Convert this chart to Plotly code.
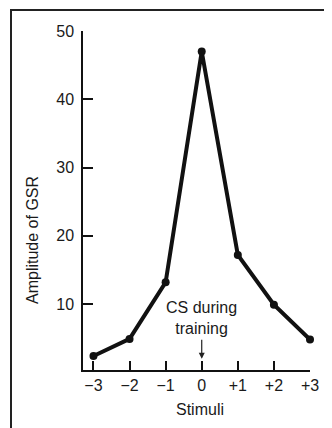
import plotly.graph_objects as go

stimuli = [-3, -2, -1, 0, 1, 2, 3]
tick_labels = ["−3", "−2", "−1", "0", "+1", "+2", "+3"]
amplitude = [2.4, 4.9, 13.2, 47.0, 17.2, 9.9, 4.8]
y_ticks = [10, 20, 30, 40, 50]

OFF = 8  # browser body margin
W, H = 332 - OFF, 428 - OFF
# plot area in reference pixels: x 83..310, y 31..370
L, R, T, B = 83 - OFF, 332 - 310, 31 - OFF, 428 - 370
pw, ph = W - L - R, H - T - B

def px_x(x):
    return (x - OFF - L) / pw

def px_y(y):
    return (H - B - (y - OFF)) / ph

fig = go.Figure()
fig.add_trace(go.Scatter(
    x=stimuli, y=amplitude, mode="lines+markers",
    line=dict(color="#111111", width=4),
    marker=dict(color="#111111", size=8),
    cliponaxis=False, showlegend=False,
))

font = dict(family="Liberation Sans, Arial, sans-serif", size=16, color="#1a1a1a")

fig.update_layout(
    width=W, height=H,
    margin=dict(l=L, r=R, t=T, b=B, pad=0),
    paper_bgcolor="white", plot_bgcolor="white",
    font=font,
    xaxis=dict(
        range=[-3.29, 3.0], tickvals=stimuli, ticktext=tick_labels,
        showline=True, linecolor="#111111", linewidth=1.5,
        ticks="inside", ticklen=9, tickwidth=1.5, tickcolor="#111111",
        showgrid=False, zeroline=False, tickfont=font,
    ),
    yaxis=dict(
        range=[0.35, 50], tickvals=y_ticks,
        showline=True, linecolor="#111111", linewidth=1.5,
        ticks="inside", ticklen=10, tickwidth=1.5, tickcolor="#111111",
        showgrid=False, zeroline=False, tickfont=font, ticklabelstandoff=4,
    ),
)

# outer frame (extends past right and bottom edges)
fig.add_shape(type="rect", xref="paper", yref="paper",
              x0=px_x(11), x1=px_x(360),
              y0=px_y(460), y1=px_y(10),
              line=dict(color="#222222", width=2), layer="below")

fig.add_annotation(text="Amplitude of GSR", xref="paper", yref="paper",
                   x=px_x(33), y=px_y(240), textangle=-90,
                   showarrow=False, font=font, xanchor="center", yanchor="middle")
fig.add_annotation(text="Stimuli", xref="paper", yref="paper",
                   x=px_x(200), y=px_y(410),
                   showarrow=False, font=font, xanchor="center", yanchor="middle")
fig.add_annotation(text="CS during<br>training", x=0, y=7.9,
                   showarrow=False, font=font, xanchor="center", yanchor="middle")
fig.add_annotation(text="", x=0, y=2.0, ax=0, ay=5.0, axref="x", ayref="y",
                   showarrow=True, arrowhead=2, arrowsize=1, arrowwidth=1.2,
                   arrowcolor="#222222")

fig.write_html("out.html")
